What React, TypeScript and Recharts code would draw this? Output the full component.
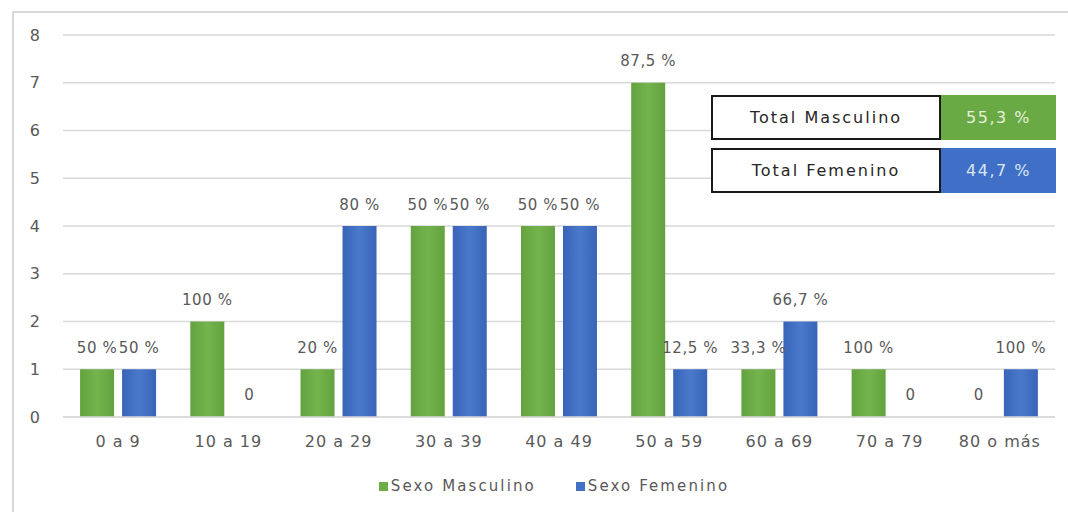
import { BarChart, Bar, XAxis, YAxis, CartesianGrid, Legend, LabelList } from "recharts";

const categories = ["0 a 9", "10 a 19", "20 a 29", "30 a 39", "40 a 49", "50 a 59", "60 a 69", "70 a 79", "80 o más"];
const masculino = [1, 2, 1, 4, 4, 7, 1, 1, 0];
const femenino = [1, 0, 4, 4, 4, 1, 2, 0, 1];
const masculinoLabels = ["50 %", "100 %", "20 %", "50 %", "50 %", "87,5 %", "33,3 %", "100 %", "0"];
const femeninoLabels = ["50 %", "0", "80 %", "50 %", "50 %", "12,5 %", "66,7 %", "0", "100 %"];
const yTicks = [0, 1, 2, 3, 4, 5, 6, 7, 8];
const totals = [
  { label: "Total Masculino", value: "55,3 %", color: "#6aaa45", text: "#e4f0dc" },
  { label: "Total Femenino", value: "44,7 %", color: "#3f6fc6", text: "#dce5f5" },
];

const GREEN = "#6dad46";
const BLUE = "#4270c4";
const FONT = "'DejaVu Sans', sans-serif";
const TEXT = "#595959";

const data = categories.map((c, i) => ({
  cat: c,
  masc: masculino[i],
  fem: femenino[i],
  mascLabel: masculinoLabels[i],
  femLabel: femeninoLabels[i],
}));

// data label drawn ~21px above the top of each bar (zero bars included)
const renderLabel = (props: any) => {
  const { x, y, width, value } = props;
  return (
    <text
      x={x + width / 2}
      y={y - 21}
      textAnchor="middle"
      dominantBaseline="middle"
      fill={TEXT}
      fontSize={15}
      fontFamily={FONT}
      letterSpacing={0.6}
    >
      {value}
    </text>
  );
};

function LegendContent() {
  const items = [
    { name: "Sexo Masculino", color: GREEN },
    { name: "Sexo Femenino", color: BLUE },
  ];
  return (
    <div style={{ display: "flex", justifyContent: "center", gap: 40, fontFamily: FONT, fontSize: 15, color: TEXT, letterSpacing: 2.1 }}>
      {items.map((it) => (
        <div key={it.name} style={{ display: "flex", alignItems: "center", gap: 3 }}>
          <span style={{ width: 9, height: 9, background: it.color, display: "inline-block" }} />
          <span>{it.name}</span>
        </div>
      ))}
    </div>
  );
}

export default function App() {
  return (
    <div style={{ position: "absolute", left: 0, top: 0, width: 1068, height: 512, background: "#fff", overflow: "hidden" }}>
      {/* frame of the chart area */}
      <div
        style={{
          position: "absolute",
          left: 12,
          top: 11,
          width: 1060,
          height: 510,
          borderLeft: "2px solid #d9d9d9",
          borderTop: "2px solid #d9d9d9",
        }}
      />
      <BarChart
        width={1068}
        height={512}
        data={data}
        margin={{ top: 35, right: 13, bottom: 65, left: 23 }}
        barCategoryGap="15.5%"
        barGap={8}
      >
        <defs>
          <linearGradient id="gGreen" x1="0" y1="0" x2="1" y2="0">
            <stop offset="0%" stopColor="#63a23f" />
            <stop offset="50%" stopColor="#74b44c" />
            <stop offset="100%" stopColor="#63a23f" />
          </linearGradient>
          <linearGradient id="gBlue" x1="0" y1="0" x2="1" y2="0">
            <stop offset="0%" stopColor="#3964b8" />
            <stop offset="50%" stopColor="#4a79cc" />
            <stop offset="100%" stopColor="#3964b8" />
          </linearGradient>
        </defs>
        <CartesianGrid vertical={false} stroke="#d9d9d9" strokeWidth={1.5} />
        <XAxis
          dataKey="cat"
          height={30}
          tickLine={false}
          axisLine={{ stroke: "#d9d9d9", strokeWidth: 1.5 }}
          tickMargin={13}
          tick={{ fill: TEXT, fontSize: 16, fontFamily: FONT, letterSpacing: 1 }}
        />
        <YAxis
          width={40}
          domain={[0, 8]}
          ticks={yTicks}
          axisLine={false}
          tickLine={false}
          tickMargin={17}
          tick={{ fill: TEXT, fontSize: 16, fontFamily: FONT }}
        />
        <Legend
          verticalAlign="middle"
          align="center"
          content={<LegendContent />}
          wrapperStyle={{ top: 477, left: 20, width: 1068 }}
        />
        <Bar dataKey="masc" name="Sexo Masculino" fill="url(#gGreen)" minPointSize={0.01} isAnimationActive={false}>
          <LabelList dataKey="mascLabel" content={renderLabel} />
        </Bar>
        <Bar dataKey="fem" name="Sexo Femenino" fill="url(#gBlue)" minPointSize={0.01} isAnimationActive={false}>
          <LabelList dataKey="femLabel" content={renderLabel} />
        </Bar>
      </BarChart>
      {/* totals table */}
      <div style={{ position: "absolute", left: 711, top: 95, fontFamily: FONT, fontSize: 16 }}>
        {totals.map((t, i) => (
          <div key={t.label} style={{ display: "flex", height: 45, marginBottom: i === 0 ? 8 : 0 }}>
            <div
              style={{
                width: 230,
                border: "2px solid #1a1a1a",
                boxSizing: "border-box",
                display: "flex",
                alignItems: "center",
                justifyContent: "center",
                color: "#262626",
                background: "#fff",
                letterSpacing: 2,
              }}
            >
              {t.label}
            </div>
            <div
              style={{
                width: 115,
                background: t.color,
                display: "flex",
                alignItems: "center",
                justifyContent: "center",
                color: t.text,
                letterSpacing: 1.5,
              }}
            >
              {t.value}
            </div>
          </div>
        ))}
      </div>
    </div>
  );
}
